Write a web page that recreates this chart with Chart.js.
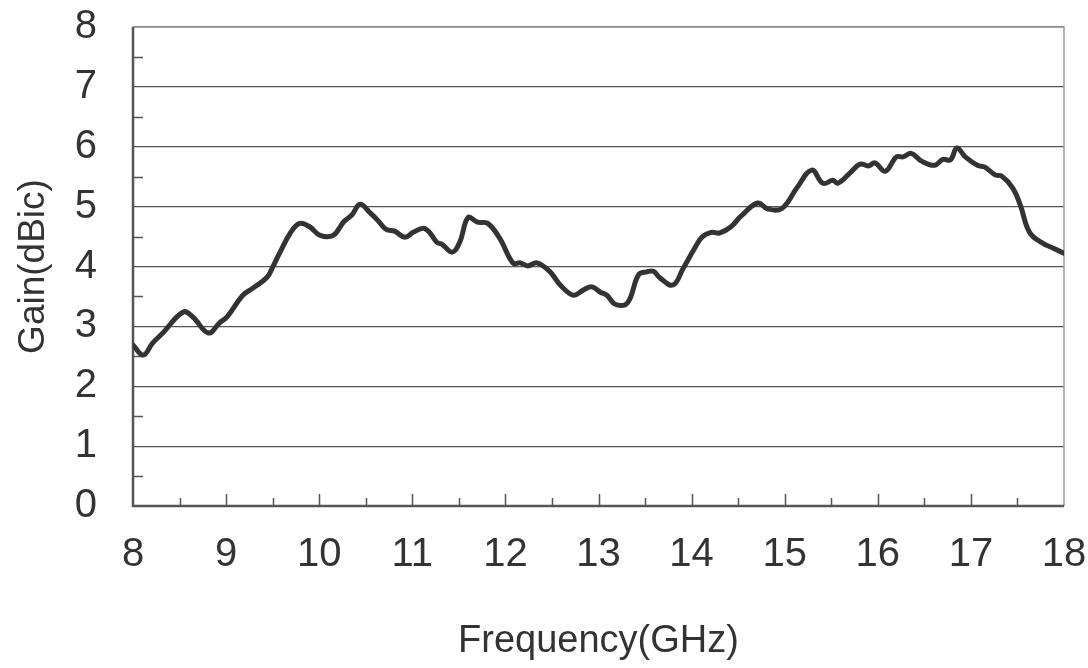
<!DOCTYPE html>
<html>
<head>
<meta charset="utf-8">
<script src="https://cdn.jsdelivr.net/npm/chart.js@4"></script>
<style>
  html, body { margin: 0; padding: 0; background: #fff; }
  #wrap { width: 1088px; height: 668px; position: relative; }
</style>
</head>
<body>
<div id="wrap"><canvas id="gain"></canvas></div>
<script>
// values
const FREQ = [8.00, 8.11, 8.21, 8.32, 8.54, 8.64, 8.81, 8.93, 9.01, 9.18, 9.29, 9.44, 9.50, 9.58, 9.69, 9.79, 9.90,
    10.01, 10.15, 10.26, 10.35, 10.44, 10.55, 10.63, 10.72, 10.81, 10.92, 11.01, 11.12, 11.19, 11.26, 11.32, 11.43,
    11.51, 11.60, 11.70, 11.81, 11.94, 12.08, 12.16, 12.24, 12.34, 12.48, 12.59, 12.73, 12.84, 12.93, 13.02, 13.09,
    13.18, 13.31, 13.43, 13.52, 13.59, 13.66, 13.80, 13.91, 14.02, 14.11, 14.21, 14.30, 14.42, 14.53, 14.71, 14.82,
    14.97, 15.13, 15.29, 15.41, 15.52, 15.57, 15.70, 15.81, 15.90, 15.97, 16.08, 16.20, 16.27, 16.36, 16.47, 16.61,
    16.70, 16.78, 16.85, 16.94, 17.07, 17.15, 17.26, 17.33, 17.45, 17.53, 17.63, 17.77, 17.88, 18.00];
const GAIN = [2.69, 2.52, 2.72, 2.89, 3.24, 3.16, 2.89, 3.06, 3.16, 3.52, 3.64, 3.82, 3.99, 4.24, 4.56, 4.72, 4.66,
    4.52, 4.52, 4.74, 4.86, 5.04, 4.89, 4.77, 4.62, 4.59, 4.49, 4.57, 4.64, 4.56, 4.41, 4.37, 4.24,
    4.41, 4.82, 4.74, 4.72, 4.47, 4.06, 4.06, 4.01, 4.06, 3.91, 3.69, 3.52, 3.61, 3.66, 3.57, 3.52,
    3.37, 3.39, 3.86, 3.91, 3.92, 3.81, 3.69, 3.97, 4.27, 4.49, 4.57, 4.56, 4.66, 4.84, 5.06, 4.96,
    4.97, 5.31, 5.61, 5.39, 5.44, 5.39, 5.56, 5.71, 5.68, 5.73, 5.59, 5.83, 5.83, 5.89, 5.76, 5.69,
    5.79, 5.78, 5.98, 5.83, 5.69, 5.66, 5.53, 5.51, 5.31, 5.03, 4.57, 4.39, 4.31, 4.22];

const X_MIN = 8, X_MAX = 18;
const Y_MIN = 0, Y_MAX = 8;
const X_TITLE = "Frequency(GHz)";
const Y_TITLE = "Gain(dBic)";

const FONT = "'Liberation Sans', Arial, sans-serif";
const INK = "#333";

let points = [];
for (let i = 0; i < FREQ.length; i++) {
    points.push({ x: FREQ[i], y: GAIN[i] })
}

// frame + small inward ticks at half steps
const frameTicks = {
    id: "frameTicks",
    beforeDatasetsDraw(chart) {
        const { ctx, chartArea: a, scales: { x, y } } = chart;
        ctx.save();
        ctx.strokeStyle = "#999";
        ctx.lineWidth = 1.5;
        ctx.beginPath();
        ctx.moveTo(a.left, a.top);
        ctx.lineTo(a.right, a.top);
        ctx.lineTo(a.right, a.bottom);
        ctx.stroke();

        ctx.strokeStyle = "#555";
        ctx.lineWidth = 1.5;
        ctx.beginPath();
        for (let v = X_MIN + 0.5; v < X_MAX; v += 0.5) {
            const px = Math.round(x.getPixelForValue(v)) + 0.5;
            const len = Number.isInteger(v) ? 12 : 8;
            ctx.moveTo(px, a.bottom);
            ctx.lineTo(px, a.bottom - len);
        }
        for (let v = Y_MIN + 0.5; v < Y_MAX; v += 1) {
            const py = Math.round(y.getPixelForValue(v)) + 0.5;
            ctx.moveTo(a.left, py);
            ctx.lineTo(a.left + 10, py);
        }
        ctx.stroke();

        ctx.lineWidth = 2.5;
        ctx.beginPath();
        ctx.moveTo(a.left, a.top);
        ctx.lineTo(a.left, a.bottom);
        ctx.lineTo(a.right, a.bottom);
        ctx.stroke();
        ctx.restore();
    }
};

window.onload = function () {
    const ctx = document.getElementById("gain").getContext("2d");
    new Chart(ctx, {
        type: "line",
        data: {
            datasets: [{
                data: points,
                borderColor: "#333",
                borderWidth: 5,
                pointRadius: 0,
                fill: false,
                tension: 0.4,
                borderJoinStyle: "round",
                borderCapStyle: "round",
            }],
        },
        options: {
            responsive: true,
            maintainAspectRatio: false,
            animation: false,
            layout: { padding: { top: 27, right: 24, left: 0, bottom: 0 } },
            plugins: {
                legend: { display: false },
                tooltip: { enabled: false },
            },
            scales: {
                x: {
                    type: "linear",
                    min: X_MIN,
                    max: X_MAX,
                    afterFit: function (s) {
                        s.height = 162;
                        s.paddingLeft = 0;
                        s.paddingRight = 0;
                    },
                    grid: { display: false, drawTicks: false },
                    border: { display: false },
                    ticks: {
                        stepSize: 1,
                        autoSkip: false,
                        maxRotation: 0,
                        padding: 25,
                        color: INK,
                        font: { family: FONT, size: 40 },
                    },
                    title: {
                        display: true,
                        text: X_TITLE,
                        color: INK,
                        padding: { top: 0, bottom: 4 },
                        font: { family: FONT, size: 38, lineHeight: 1.2 },
                    },
                },
                y: {
                    min: Y_MIN,
                    max: Y_MAX,
                    afterFit: function (s) {
                        s.width = 133;
                        s.paddingTop = 0;
                        s.paddingBottom = 0;
                    },
                    grid: { color: "#555", lineWidth: 1.2, drawTicks: false },
                    border: { display: false },
                    ticks: {
                        stepSize: 1,
                        padding: 36,
                        color: INK,
                        font: { family: FONT, size: 40 },
                    },
                    title: {
                        display: true,
                        text: Y_TITLE,
                        color: INK,
                        padding: { top: 12, bottom: 0 },
                        font: { family: FONT, size: 37, lineHeight: 1.2 },
                    },
                },
            },
        },
        plugins: [frameTicks],
    });
};
</script>
</body>
</html>
